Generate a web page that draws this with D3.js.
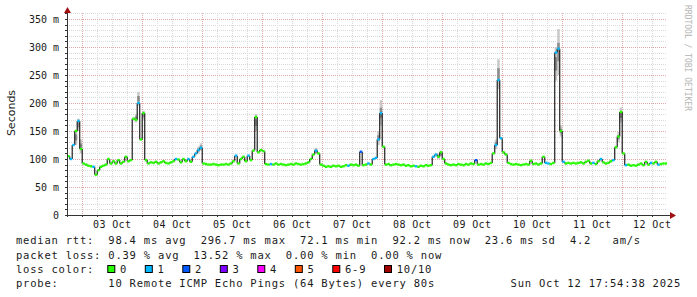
<!DOCTYPE html>
<meta charset="utf-8">
<script src="https://cdn.jsdelivr.net/npm/d3@7"></script>
<style>
    body { margin: 0; background: #fff; }
    text { font-family: "DejaVu Sans Mono", monospace; fill: #1a1a1a; }
</style>

<div id="my_dataviz"></div>

<script>
    // hourly median rtt in ms, first value is 02 Oct 18:00 (UTC), one per hour
    const median = [
        105, 100, 125, 150, 168, 118,
        92, 90, 88, 87, 86, 72, 80, 86, 88, 90, 100, 92, 96, 92, 98, 92, 95, 104, 96, 98, 172, 170, 200, 135,
        182, 98, 92, 94, 93, 95, 92, 94, 96, 93, 92, 94, 96, 100, 99, 94, 100, 96, 100, 95, 104, 110, 116, 120,
        92, 91, 90, 90, 91, 90, 89, 90, 90, 91, 90, 92, 96, 106, 92, 100, 104, 96, 106, 98, 115, 175, 112, 116,
        114, 91, 90, 91, 90, 92, 90, 91, 90, 89, 90, 91, 90, 92, 91, 90, 91, 92, 94, 100, 108, 115, 110, 90,
        88, 86, 87, 86, 88, 87, 88, 86, 87, 89, 88, 90, 89, 90, 88, 113, 89, 90, 92, 90, 100, 102, 135, 182,
        122, 90, 91, 89, 90, 91, 90, 89, 90, 88, 89, 87, 88, 87, 86, 88, 87, 89, 88, 89, 104, 108, 104, 112,
        100, 92, 90, 89, 90, 89, 91, 90, 89, 91, 90, 92, 91, 98, 90, 91, 90, 92, 91, 93, 110, 125, 241, 137,
        112, 108, 93, 91, 90, 91, 90, 89, 90, 91, 90, 97, 91, 92, 90, 92, 104, 93, 92, 91, 93, 290, 297, 150,
        95, 92, 93, 92, 93, 92, 93, 94, 92, 95, 97, 92, 93, 91, 96, 100, 94, 92, 93, 96, 98, 121, 140, 184,
        110, 89, 90, 88, 89, 88, 90, 92, 89, 95, 90, 93, 92, 95, 90, 91, 92, 92
    ];

    // hours (index into median) with 1 or 2 lost pings
    const lossOne = [1, 2, 4, 10, 28, 43, 48, 50, 51, 52, 53, 67, 72, 81, 99, 112, 120, 122, 123, 124, 125,
        139, 146, 147, 171, 172, 173, 191, 192, 195, 196, 198, 210, 213, 218, 223, 233, 236];
    const lossTwo = [117, 163];

    // smoke: [hour index, lowest ping ms, highest ping ms]
    const smoke = [
        [3, 125, 152], [4, 150, 172], [5, 110, 135],
        [27, 165, 180], [28, 195, 220], [30, 170, 186],
        [52, 110, 122], [53, 115, 128], [75, 150, 180], [99, 110, 120],
        [124, 125, 150], [125, 160, 205], [148, 100, 110], [149, 105, 115],
        [171, 118, 135], [172, 225, 278],
        [195, 240, 300], [196, 250, 332], [197, 140, 160],
        [220, 130, 148], [221, 165, 192]
    ];

    const yTicks = [0, 50, 100, 150, 200, 250, 300, 350];

    const lossLegend = [
        ["0", "#26ff00"], ["1", "#00b8ff"], ["2", "#0059ff"], ["3", "#7e00ff"],
        ["4", "#ff00ff"], ["5", "#ff5500"], ["6-9", "#ff0000"], ["10/10", "#a10000"]
    ];

    const statLines = [
        "median rtt:  98.4 ms avg  296.7 ms max  72.1 ms min  92.2 ms now  23.6 ms sd  4.2   am/s",
        "packet loss: 0.39 % avg  13.52 % max  0.00 % min  0.00 % now",
        "loss color:",
        "probe:       10 Remote ICMP Echo Pings (64 Bytes) every 80s"
    ];
    const stamp = "Sun Oct 12 17:54:38 2025";

    const startT = Date.UTC(2025, 9, 2, 17, 54, 38);
    const endT = Date.UTC(2025, 9, 12, 17, 54, 38);
    const firstT = Date.UTC(2025, 9, 2, 18, 0, 0);
    const hour = 3600 * 1000;

    let margin = {top: 13.4, right: 30, bottom: 82, left: 67},
        width = 697 - margin.left - margin.right,
        height = 297 - margin.top - margin.bottom;

    let svg = d3.select("#my_dataviz").append("svg")
        .attr("width", 697)
        .attr("height", 297)
        .style("display", "block")
    ;

    let xScale = d3.scaleUtc()
        .domain([new Date(startT), new Date(endT)])
        .range([margin.left, margin.left + width]);

    let yScale = d3.scaleLinear()
        .domain([0, 360])
        .range([margin.top + height, margin.top]);

    const px = v => Math.round(v) + 0.5;
    const x0 = margin.left, x1 = margin.left + width;
    const yb = yScale(0), yt = margin.top;

    // grid
    let grid = svg.append("g").attr("shape-rendering", "crispEdges");

    let minorY = d3.range(0, 361, 10).filter(v => v % 50 !== 0);
    grid.selectAll(".gy").data(minorY).enter().append("line")
        .attr("x1", x0).attr("x2", x1)
        .attr("y1", d => px(yScale(d))).attr("y2", d => px(yScale(d)))
        .attr("stroke", "#dadada").attr("stroke-dasharray", "1,1");

    let hours6 = xScale.ticks(d3.utcHour.every(6)).filter(d => d.getUTCHours() !== 0);
    grid.selectAll(".gx").data(hours6).enter().append("line")
        .attr("x1", d => px(xScale(d))).attr("x2", d => px(xScale(d)))
        .attr("y1", yt).attr("y2", yb)
        .attr("stroke", "#dadada").attr("stroke-dasharray", "1,1");

    grid.selectAll(".my").data(yTicks.filter(v => v > 0)).enter().append("line")
        .attr("x1", x0).attr("x2", x1)
        .attr("y1", d => px(yScale(d))).attr("y2", d => px(yScale(d)))
        .attr("stroke", "#e2a8a8").attr("stroke-dasharray", "1,1");

    let days = xScale.ticks(d3.utcDay.every(1));
    grid.selectAll(".mx").data(days).enter().append("line")
        .attr("x1", d => px(xScale(d))).attr("x2", d => px(xScale(d)))
        .attr("y1", yt).attr("y2", yb)
        .attr("stroke", "#e2a8a8").attr("stroke-dasharray", "1,1");

    // data
    let plot = svg.append("g");
    svg.append("clipPath").attr("id", "clip").append("rect")
        .attr("x", x0).attr("y", 0).attr("width", width).attr("height", yb);
    plot.attr("clip-path", "url(#clip)");

    const tAt = i => new Date(firstT + i * hour);

    plot.selectAll(".smoke").data(smoke).enter().append("rect")
        .attr("x", d => xScale(tAt(d[0])))
        .attr("width", d => xScale(tAt(d[0] + 1)) - xScale(tAt(d[0])))
        .attr("y", d => yScale(d[2]))
        .attr("height", d => yScale(d[1]) - yScale(d[2]))
        .attr("fill", "#c8c8c8");
    plot.selectAll(".smoke2").data(smoke).enter().append("rect")
        .attr("x", d => xScale(tAt(d[0])))
        .attr("width", d => xScale(tAt(d[0] + 1)) - xScale(tAt(d[0])))
        .attr("y", d => yScale(d[2] - (d[2] - d[1]) * 0.3))
        .attr("height", d => yScale(d[1] + (d[2] - d[1]) * 0.3) - yScale(d[2] - (d[2] - d[1]) * 0.3))
        .attr("fill", "#8c8c8c");

    let steps = d3.range(median.length - 1);
    plot.selectAll(".vert").data(steps).enter().append("line")
        .attr("x1", i => xScale(tAt(i + 1))).attr("x2", i => xScale(tAt(i + 1)))
        .attr("y1", i => yScale(median[i])).attr("y2", i => yScale(median[i + 1]))
        .attr("stroke", "#202020").attr("stroke-width", 1.2);

    const lossColor = i => lossTwo.includes(i) ? lossLegend[2][1]
        : lossOne.includes(i) ? lossLegend[1][1] : lossLegend[0][1];

    plot.selectAll(".med").data(median).enter().append("line")
        .attr("x1", (d, i) => xScale(tAt(i))).attr("x2", (d, i) => xScale(tAt(i + 1)))
        .attr("y1", d => yScale(d)).attr("y2", d => yScale(d))
        .attr("stroke", (d, i) => lossColor(i)).attr("stroke-width", 2.4);

    // axes
    let axis = svg.append("g").attr("shape-rendering", "crispEdges");
    axis.append("line").attr("x1", x0 - 2).attr("x2", x1 + 4)
        .attr("y1", px(yb)).attr("y2", px(yb)).attr("stroke", "#333");
    axis.append("line").attr("x1", px(x0)).attr("x2", px(x0))
        .attr("y1", yb + 2).attr("y2", 10).attr("stroke", "#333");
    axis.selectAll(".ty").data(d3.range(0, 361, 10)).enter().append("line")
        .attr("x1", x0 - 2).attr("x2", x0)
        .attr("y1", d => px(yScale(d))).attr("y2", d => px(yScale(d))).attr("stroke", "#333");
    axis.selectAll(".tx").data(xScale.ticks(d3.utcHour.every(6))).enter().append("line")
        .attr("x1", d => px(xScale(d))).attr("x2", d => px(xScale(d)))
        .attr("y1", yb).attr("y2", yb + 2).attr("stroke", "#333");

    svg.append("path").attr("d", `M${x1 + 3},${yb - 3} L${x1 + 9},${yb + 0.5} L${x1 + 3},${yb + 4} Z`)
        .attr("fill", "#a01010");
    svg.append("path").attr("d", `M${x0 - 3},13 L${x0 + 0.5},7 L${x0 + 4},13 Z`)
        .attr("fill", "#a01010");

    svg.selectAll(".ylab").data(yTicks).enter().append("text")
        .attr("x", 59).attr("y", d => yScale(d)).attr("dy", "0.36em")
        .attr("text-anchor", "end").style("font-size", "10px")
        .text(d => d === 0 ? "0" : d + " m");

    let fmt = d3.utcFormat("%d %b");
    svg.selectAll(".xlab").data(days).enter().append("text")
        .attr("x", d => xScale(new Date(+d + 12 * hour))).attr("y", 228)
        .attr("text-anchor", "middle").style("font-size", "10px")
        .style("letter-spacing", "0.35px")
        .text(d => fmt(d));

    svg.append("text")
        .attr("transform", "translate(15,113) rotate(-90)")
        .attr("text-anchor", "middle")
        .style("font-family", "'DejaVu Sans', sans-serif").style("font-size", "11px")
        .text("Seconds");

    svg.append("text")
        .attr("transform", "translate(685,5) rotate(90)")
        .style("font-size", "8px").style("fill", "#b4b4b4")
        .text("RRDTOOL / TOBI OETIKER");

    // legend
    const rowY = [244.3, 258.7, 273, 287.3];
    const legendFont = t => t.style("font-size", "10.5px").style("letter-spacing", "0.78px")
        .attr("xml:space", "preserve").style("white-space", "pre");

    statLines.forEach((s, k) => {
        svg.append("text").attr("x", 16).attr("y", rowY[k]).call(legendFont).text(s);
    });
    svg.append("text").attr("x", 681).attr("y", rowY[3]).attr("text-anchor", "end")
        .call(legendFont).text(stamp);

    let bx = 107.3;
    lossLegend.forEach(([label, color]) => {
        svg.append("rect").attr("x", bx + 0.5).attr("y", rowY[2] - 7.5)
            .attr("width", 7).attr("height", 7)
            .attr("fill", color).attr("stroke", "#000").attr("stroke-width", 1);
        svg.append("text").attr("x", bx + 12.7).attr("y", rowY[2]).call(legendFont).text(label);
        bx = bx + 12.7 + label.length * 7.1 + 17.7;
    });
</script>
